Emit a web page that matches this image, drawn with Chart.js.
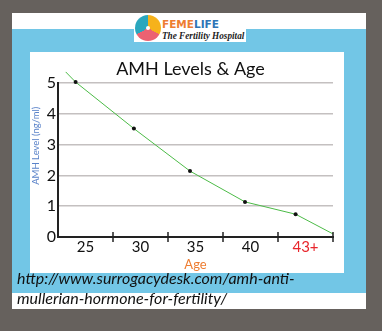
<!DOCTYPE html>
<html><head><meta charset="utf-8">
<script src="https://cdn.jsdelivr.net/npm/chart.js@4/dist/chart.umd.min.js"></script>
<style>
html,body{margin:0;padding:0;}
body{width:382px;height:331px;background:#66615d;position:relative;overflow:hidden;font-family:Lato,"Open Sans",sans-serif;}
#frame{position:absolute;left:12px;top:13px;width:354px;height:296px;background:#fff;}
#blue{position:absolute;left:12px;top:29px;width:354px;height:264px;background:#72c6e6;}
#logo{position:absolute;left:134px;top:13px;width:112px;height:29px;background:#fff;}
#icon{position:absolute;left:1px;top:2px;width:26px;height:26px;border-radius:50%;
 background:conic-gradient(#f6b21b 0deg 120deg,#ec6272 120deg 240deg,#2aa7be 240deg 360deg);}
#icon:after{content:"";position:absolute;left:11px;top:11px;width:4px;height:4px;border-radius:50%;background:#fff;}
#brand{position:absolute;left:28px;top:5px;font:bold 10.5px "DejaVu Sans",sans-serif;}
#brand .a{color:#ee7d31}#brand .b{color:#2e75b6}
#tag{position:absolute;left:28px;top:17px;font:italic bold 10px "Liberation Serif",serif;color:#222;white-space:nowrap;transform-origin:0 0;transform:scaleX(0.92);}
#box{position:absolute;left:30px;top:52px;width:314px;height:221px;background:#fff;}
#url{position:absolute;left:17px;top:268px;font:italic 16px Lato,sans-serif;line-height:20px;color:#111;white-space:nowrap;}
</style></head><body>
<div id="frame"></div><div id="blue"></div>
<div id="logo"><div id="icon"></div><div id="brand"><span class="a">FEME</span><span class="b">LIFE</span></div><div id="tag">The Fertility Hospital</div></div>
<div id="box"><canvas id="c" width="314" height="221"></canvas></div>
<div id="url">http://www.surrogacydesk.com/amh-anti-<br>mullerian-hormone-for-fertility/</div>
<script>
const ageLabels = ['25','30','35','40','43+'];
const ageValues = [23.2, 24.1, 29.4, 34.5, 39.5, 44.1, 47.5];
const amhValues = [5.36, 5.03, 3.52, 2.14, 1.14, 0.74, 0.1];
const dotSizes = [0, 2, 2, 2, 2, 2, 0];
const yTicks = [0, 1, 2, 3, 4, 5];

const points = ageValues.map((a, i) => ({x: a, y: amhValues[i]}));

const tickCross = {
  id: 'tickCross',
  afterDraw(chart) {
    const s = chart.scales.x, ctx = chart.ctx;
    const p0 = s.getPixelForValue(0), p1 = s.getPixelForValue(1);
    const step = p1 - p0;
    ctx.save();
    ctx.strokeStyle = '#222'; ctx.lineWidth = 1.5;
    for (let i = 1; i <= ageLabels.length; i++) {
      const px = Math.round(p0 - step / 2 + i * step);
      ctx.beginPath(); ctx.moveTo(px, s.top - 5); ctx.lineTo(px, s.top + 5); ctx.stroke();
    }
    ctx.restore();
  }
};

new Chart(document.getElementById('c'), {
  type: 'line',
  data: {
    labels: ageLabels,
    datasets: [{
      data: points,
      xAxisID: 'xv',
      borderColor: '#4cbb47',
      borderWidth: 1,
      pointRadius: dotSizes,
      pointBackgroundColor: '#111',
      pointBorderColor: '#111',
      pointBorderWidth: 0,
      tension: 0,
      clip: false
    }]
  },
  options: {
    responsive: false,
    animation: false,
    layout: {padding: {left: 0, right: 11, top: 0, bottom: 0}},
    plugins: {
      legend: {display: false},
      tooltip: {enabled: false},
      title: {display: true, text: '\u2002\u2002AMH Levels & Age', color: '#111',
        font: {family: 'Lato', size: 18, weight: 'normal'}, padding: {top: 6, bottom: 3.4}}
    },
    scales: {
      xv: {type: 'linear', display: false, min: 22.5, max: 47.5},
      x: {
        type: 'category', position: 'bottom', offset: true,
        grid: {display: false, drawTicks: false, drawOnChartArea: false},
        border: {display: true, color: '#222', width: 2, z: 2},
        ticks: {padding: 1, font: {family: 'Lato', size: 15},
          color: (c) => c.index === ageLabels.length - 1 ? '#e8262c' : '#111'},
        title: {display: true, text: 'Age', color: '#ee7d31', padding: {top: 0, bottom: 0},
          font: {family: 'Lato', size: 13}},
        afterFit: (s) => { s.height = 36; }
      },
      y: {
        min: 0, max: 5,
        afterBuildTicks: (s) => { s.ticks = yTicks.map(v => ({value: v})); },
        grid: {color: (c) => c.tick && c.tick.value === 0 ? 'rgba(0,0,0,0)' : '#c4c0c0', lineWidth: 1.5, drawTicks: false},
        border: {display: true, color: '#222', width: 2},
        ticks: {padding: 2, font: {family: 'Lato', size: 16}, color: '#111'},
        title: {display: true, text: '\u2003\u2003\u2003\u2003AMH Level (ng/ml)', color: '#5b83c9', padding: {top: 0, bottom: 0},
          font: {family: 'Lato', size: 9.5}},
        afterFit: (s) => { s.width = 28; }
      }
    }
  },
  plugins: [tickCross]
});
</script>
</body></html>
